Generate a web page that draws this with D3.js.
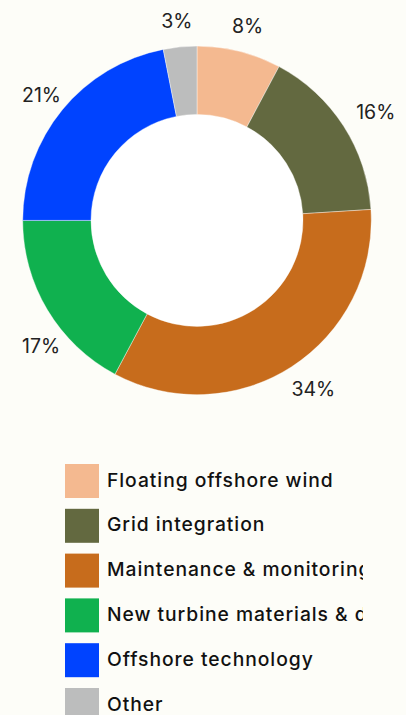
<!DOCTYPE html>
<html><head><meta charset="utf-8">
<script src="https://cdn.jsdelivr.net/npm/d3@7"></script>
<style>
html,body{margin:0;padding:0;background:#fdfdf8;}
svg{display:block;}
</style></head>
<body>
<svg id="c" width="406" height="715"></svg>
<script>
const categories = ["Floating offshore wind","Grid integration","Maintenance & monitoring","New turbine materials & design","Offshore technology","Other"];
const values = [7.8,16.2,33.8,17.2,21.9,3.1];
const labels = ["8%","16%","34%","17%","21%","3%"];
const colors = ["#f4b990","#636940","#c76c1c","#10b14f","#0043ff","#bcbdbd"];

const svg = d3.select("#c");
const cx = 197, cy = 220.4, R = 174.3, r0 = 106, rl = 193, rClamp = 200, xMin = 22;
const g = svg.append("g").attr("transform",`translate(${cx},${cy})`);
g.append("circle").attr("r", r0).attr("fill","#ffffff");
const pie = d3.pie().sort(null).value(d=>d)(values);
const arc = d3.arc().innerRadius(r0).outerRadius(R);
g.selectAll("path").data(pie).join("path")
  .attr("d", arc).attr("fill",(d,i)=>colors[i])
  .attr("stroke","#ffffff").attr("stroke-width",0.4);
const fs = 19.5;
const lab = g.selectAll("text").data(pie).join("text")
  .attr("font-family","Inter, sans-serif").attr("font-size",fs)
  .attr("fill","#222").attr("text-anchor","middle").attr("dy","0.36em")
  .text((d,i)=>labels[i]);
lab.each(function(d){
  const w = this.getBBox().width, h = fs*0.72;
  const a = (d.startAngle + d.endAngle)/2;
  const s = Math.sin(a), c = Math.cos(a);
  let x = rl*s + w/2*s;
  let y = -rl*c - h/2*c;
  if (cx + x - w/2 < xMin) {
    x = xMin + w/2 - cx;
    y = Math.sign(y) * Math.sqrt(rClamp*rClamp - x*x);
  }
  d3.select(this).attr("x", x).attr("y", y);
});

svg.append("clipPath").attr("id","lc").append("rect")
  .attr("x",0).attr("y",440).attr("width",363).attr("height",275);
const lg = svg.append("g").attr("clip-path","url(#lc)");
const ly = d3.scaleLinear().domain([0,5]).range([464,688]);
const items = lg.selectAll("g").data(categories).join("g")
  .attr("transform",(d,i)=>`translate(65,${ly(i)})`);
items.append("rect").attr("width",34).attr("height",34).attr("fill",(d,i)=>colors[i]);
items.append("text").attr("x",42).attr("y",22.5)
  .attr("font-family","Inter, sans-serif").attr("font-size",19.3).attr("font-weight",500)
  .attr("letter-spacing",0.95)
  .attr("fill","#111").text(d=>d);
</script>
</body></html>
